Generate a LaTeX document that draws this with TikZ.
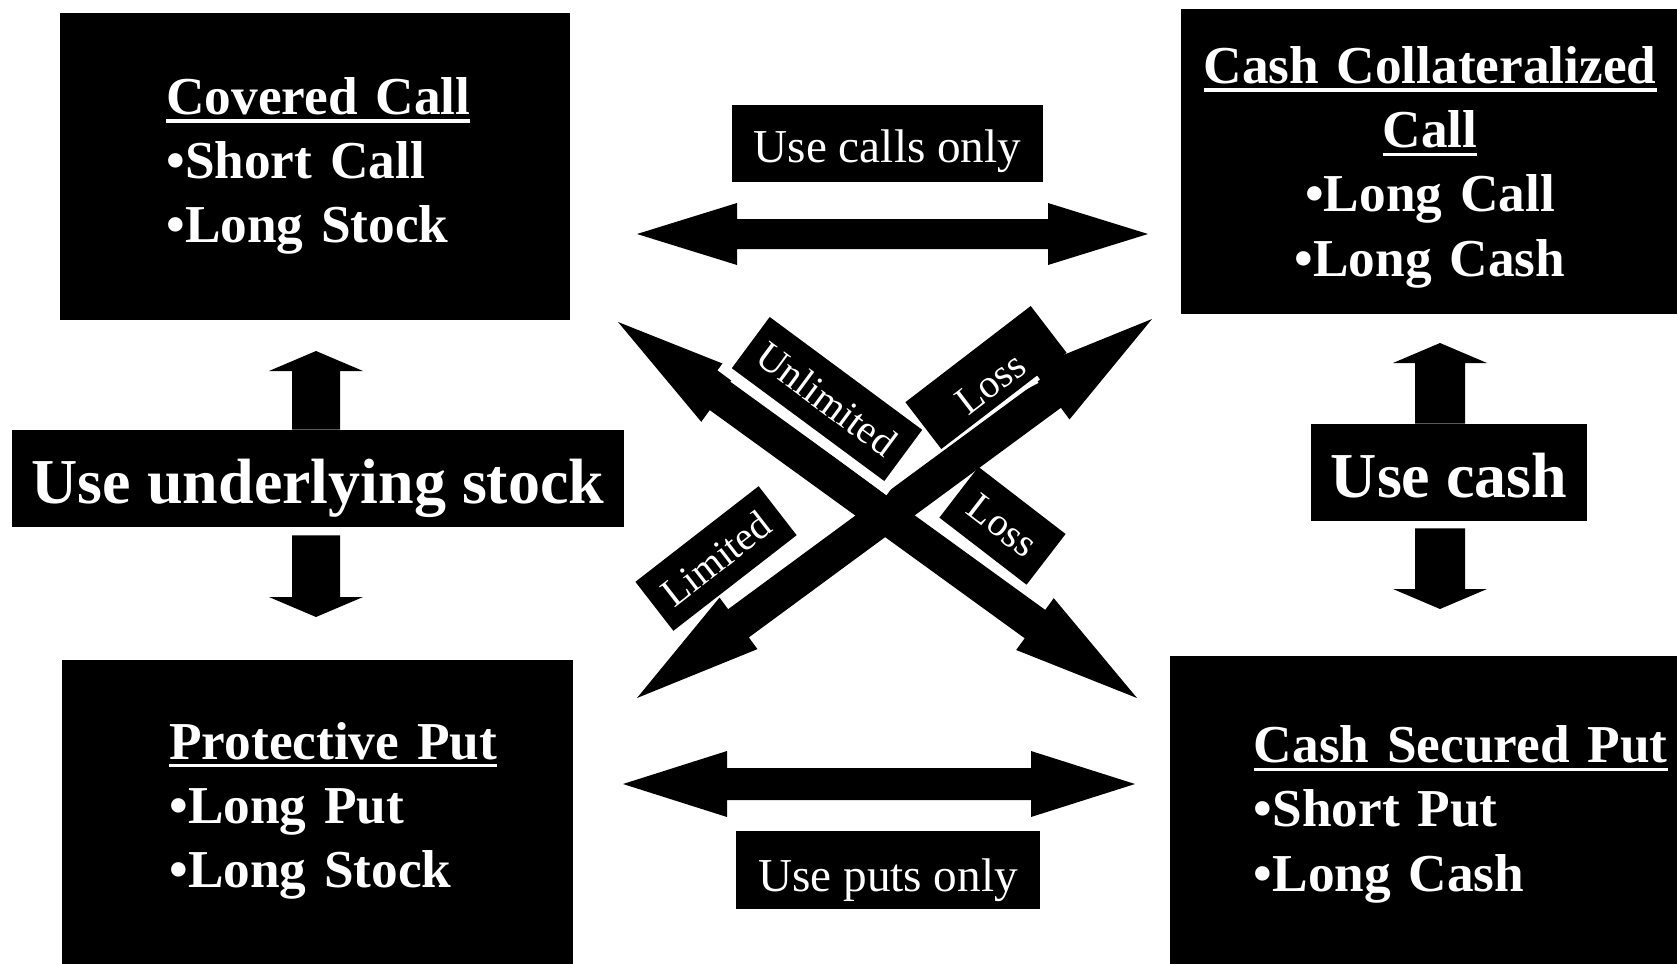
\documentclass[tikz,border=0pt]{standalone}
\usepackage{fontspec}
\setmainfont{Liberation Serif}
\usetikzlibrary{calc}
\newsavebox\ulbox
\newcommand\myul[1]{\leavevmode\sbox\ulbox{#1}\rlap{\rule[-4.2pt]{\wd\ulbox}{1.7pt}}\usebox\ulbox}
% single block arrow: #1 start, #2 tip, #3 shaft half, #4 head half, #5 head length
\newcommand\sarrow[5]{%
  \coordinate (sa-h) at ($(#2)!#5!(#1)$);
  \fill ($(#1)!#3!90:(#2)$) -- ($(sa-h)!#3!90:(#2)$) -- ($(sa-h)!#4!90:(#2)$) -- (#2)
    -- ($(sa-h)!#4!-90:(#2)$) -- ($(sa-h)!#3!-90:(#2)$) -- ($(#1)!#3!-90:(#2)$) -- cycle;}
% double block arrow: #1 tip A, #2 tip B, #3 shaft half, #4 head half, #5 head length
\newcommand\darrow[5]{%
  \coordinate (da-a) at ($(#1)!#5!(#2)$);
  \coordinate (da-b) at ($(#2)!#5!(#1)$);
  \fill (#1) -- ($(da-a)!#4!90:(#2)$) -- ($(da-a)!#3!90:(#2)$) -- ($(da-b)!#3!90:(#2)$)
    -- ($(da-b)!#4!90:(#2)$) -- (#2) -- ($(da-b)!#4!-90:(#2)$) -- ($(da-b)!#3!-90:(#2)$)
    -- ($(da-a)!#3!-90:(#2)$) -- ($(da-a)!#4!-90:(#2)$) -- cycle;}
\begin{document}
\begin{tikzpicture}[x=0.5pt,y=-0.5pt,
  blk/.style={fill=black, inner sep=0pt, outer sep=0pt},
  boxtext/.style={text=white, inner sep=0pt, font=\bfseries\fontsize{26.65}{32.1}\selectfont},
  midlabel/.style={fill=black, text=white, inner sep=0pt, font=\bfseries\fontsize{32}{38}\selectfont},
  uselabel/.style={fill=black, text=white, inner sep=0pt, font=\fontsize{23.6}{28}\selectfont},
  diaglabel/.style={fill=black, text=white, inner sep=0pt, font=\fontsize{20}{24}\selectfont}]
\useasboundingbox (0,0) rectangle (1677,964);
\fill[white] (0,0) rectangle (1677,964);

% strategy boxes
\node[blk, anchor=north west, minimum width=255pt, minimum height=153.5pt] (cc) at (60,13) {};
\node[blk, anchor=north west, minimum width=248pt, minimum height=152.5pt] (ccc) at (1181,9) {};
\node[blk, anchor=north west, minimum width=255.5pt, minimum height=152pt] (pp) at (62,660) {};
\node[blk, anchor=north west, minimum width=253.5pt, minimum height=154pt] (csp) at (1170,656) {};

\node[boxtext, anchor=base west, text width=180pt, align=left] (cct) at (166,114.4)
  {\myul{Covered Call}\\•Short Call\\•Long Stock};
\node[boxtext, anchor=base, text width=240pt, align=center] (ccct) at (1430,83.4)
  {\myul{Cash Collateralized}\\\myul{Call}\\•Long Call\\•Long Cash};
\node[boxtext, anchor=base west, text width=180pt, align=left] (ppt) at (169,759)
  {\myul{Protective Put}\\•Long Put\\•Long Stock};
\node[boxtext, anchor=base west, text width=210pt, align=left] (cspt) at (1253.5,762.6)
  {\myul{Cash Secured Put}\\•Short Put\\•Long Cash};

% relation labels
\node[midlabel, minimum width=306pt, minimum height=48.5pt, text height=24.8pt, text depth=0pt] (stock) at (318,478.5) {Use underlying stock};
\node[midlabel, minimum width=138pt, minimum height=48.5pt, text height=24.5pt, text depth=0pt] (cash) at (1449,472.5) {Use cash};
\node[uselabel, minimum width=155.5pt, minimum height=38.5pt, text height=19pt, text depth=0pt] (calls) at (887.5,143.5) {Use calls only};
\node[uselabel, minimum width=152pt, minimum height=39pt, text height=21pt, text depth=0pt] (puts) at (888,870) {Use puts only};

% horizontal double arrows
\coordinate (callsL) at (637,234);
\coordinate (callsR) at (1148,234);
\darrow{callsL}{callsR}{7.5pt}{15.5pt}{50pt}
\coordinate (putsL) at (623,784);
\coordinate (putsR) at (1135,784);
\darrow{putsL}{putsR}{8pt}{16.5pt}{52pt}

% vertical arrows
\coordinate (su) at (316,351);
\coordinate (su0) at (stock.north -| su);
\sarrow{su0}{su}{12pt}{23.5pt}{10pt}
\coordinate (sd) at (316,617);
\coordinate (sd0) at ($(stock.south -| sd)+(0,8)$);
\sarrow{sd0}{sd}{12pt}{23.5pt}{10pt}
\coordinate (cu) at (1440,343);
\coordinate (cu0) at (cash.north -| cu);
\sarrow{cu0}{cu}{12.5pt}{23.5pt}{10pt}
\coordinate (cd) at (1440,609);
\coordinate (cd0) at ($(cash.south -| cd)+(0,7)$);
\sarrow{cd0}{cd}{12.5pt}{23.5pt}{10pt}

% diagonal double arrows
\coordinate (nw) at (618,322);
\coordinate (se) at (1137,698);
\coordinate (sw) at (637,698);
\coordinate (ne) at (1152,319);
\darrow{nw}{se}{8.75pt}{16pt}{63pt}
\darrow{sw}{ne}{8.75pt}{16pt}{63pt}

% diagonal labels
\node[diaglabel, rotate=-36.5, minimum width=100pt, minimum height=37pt, draw=white, line width=5pt] (unl) at (827,399) {Unlimited};
\node[diaglabel, rotate=-37.6, minimum width=55pt, minimum height=32pt] (lossb) at (1002.5,525.8) {Loss};
\node[diaglabel, rotate=37.8, minimum width=78pt, minimum height=31pt] (lim) at (716,558.5) {Limited};
\node[diaglabel, rotate=37.5, minimum width=79pt, minimum height=29.5pt, text height=20.5pt, text depth=0pt] (losst) at (986,377.5) {Loss\hspace{30pt}};
\draw[white, line width=1pt] (1023,390) -- (1038,382);
\end{tikzpicture}
\end{document}
